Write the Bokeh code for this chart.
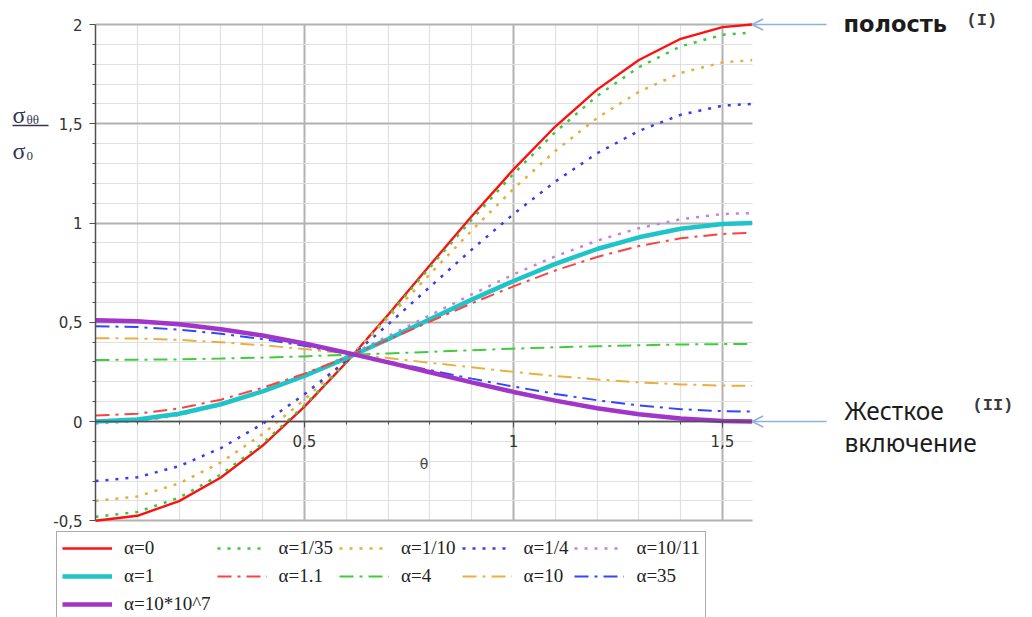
import math
from bokeh.plotting import figure
from bokeh.models import (Range1d, LinearAxis, FixedTicker, Grid, Legend, LegendItem,
                          Label, Arrow, OpenHead, CustomJSTickFormatter)
from bokeh.embed import file_html
from bokeh.resources import INLINE

# ---------------- data ----------------
theta = [0.0, 0.1, 0.2, 0.3, 0.4, 0.5, 0.6, 0.7, 0.8, 0.9, 1.0, 1.1, 1.2, 1.3, 1.4, 1.5, 1.571]

s_a0 = [-0.500, -0.475, -0.401, -0.282, -0.121, 0.075, 0.297, 0.538, 0.787, 1.034, 1.270, 1.486, 1.672, 1.821, 1.928, 1.987, 2.000]
s_a1_35 = [-0.480, -0.456, -0.384, -0.267, -0.110, 0.081, 0.298, 0.533, 0.776, 1.017, 1.248, 1.458, 1.640, 1.785, 1.890, 1.948, 1.960]
s_a1_10 = [-0.400, -0.378, -0.312, -0.206, -0.063, 0.110, 0.308, 0.521, 0.742, 0.962, 1.172, 1.363, 1.529, 1.661, 1.756, 1.809, 1.820]
s_a1_4 = [-0.300, -0.281, -0.225, -0.134, -0.012, 0.137, 0.306, 0.489, 0.678, 0.866, 1.045, 1.209, 1.351, 1.464, 1.545, 1.591, 1.600]
s_a10_11 = [-0.010, 0.001, 0.032, 0.083, 0.151, 0.234, 0.328, 0.430, 0.535, 0.640, 0.741, 0.832, 0.911, 0.974, 1.019, 1.045, 1.050]
s_a1 = [0.000, 0.010, 0.039, 0.087, 0.152, 0.230, 0.319, 0.415, 0.515, 0.614, 0.708, 0.794, 0.869, 0.928, 0.971, 0.995, 1.000]
s_a1_1 = [0.030, 0.039, 0.066, 0.110, 0.170, 0.241, 0.323, 0.412, 0.503, 0.595, 0.681, 0.761, 0.829, 0.884, 0.923, 0.945, 0.950]
s_a4 = [0.310, 0.311, 0.313, 0.317, 0.322, 0.328, 0.336, 0.343, 0.351, 0.359, 0.367, 0.374, 0.379, 0.384, 0.388, 0.390, 0.390]
s_a10 = [0.420, 0.418, 0.411, 0.399, 0.384, 0.365, 0.343, 0.320, 0.296, 0.273, 0.250, 0.229, 0.212, 0.197, 0.187, 0.181, 0.180]
s_a35 = [0.480, 0.476, 0.463, 0.442, 0.415, 0.381, 0.343, 0.302, 0.259, 0.216, 0.176, 0.139, 0.107, 0.081, 0.062, 0.052, 0.050]
s_a1e8 = [0.510, 0.505, 0.490, 0.465, 0.433, 0.393, 0.347, 0.298, 0.248, 0.197, 0.149, 0.105, 0.067, 0.037, 0.015, 0.003, 0.000]

series = [s_a0, s_a1_35, s_a1_10, s_a1_4, s_a10_11, s_a1, s_a1_1, s_a4, s_a10, s_a35, s_a1e8]
labels = ["α=0", "α=1/35", "α=1/10", "α=1/4", "α=10/11",
          "α=1", "α=1.1", "α=4", "α=10", "α=35", "α=10*10^7"]

x_major = [0.5, 1.0, 1.5]
x_minor = [0.1, 0.2, 0.3, 0.4, 0.6, 0.7, 0.8, 0.9, 1.1, 1.2, 1.3, 1.4]
y_major = [-0.5, 0.0, 0.5, 1.0, 1.5, 2.0]
y_minor = [-0.4, -0.3, -0.2, -0.1, 0.1, 0.2, 0.3, 0.4, 0.6, 0.7, 0.8, 0.9,
           1.1, 1.2, 1.3, 1.4, 1.6, 1.7, 1.8, 1.9]

# ---------------- styles ----------------
DOT = "3 7"
DASHDOT = "14 6 3 6"
styles = [
    dict(line_color="#ff1010", line_width=2.4, line_dash="solid"),
    dict(line_color="#3cc83c", line_width=2.5, line_dash=DOT),
    dict(line_color="#e8ac40", line_width=2.5, line_dash=DOT),
    dict(line_color="#3a3af0", line_width=2.5, line_dash=DOT),
    dict(line_color="#c880e0", line_width=2.5, line_dash=DOT),
    dict(line_color="#1ec4c8", line_width=4.5, line_dash="solid"),
    dict(line_color="#ff4040", line_width=2.0, line_dash=DASHDOT),
    dict(line_color="#40cc40", line_width=2.0, line_dash=DASHDOT),
    dict(line_color="#e8b040", line_width=2.0, line_dash=DASHDOT),
    dict(line_color="#3046ff", line_width=2.0, line_dash=DASHDOT),
    dict(line_color="#a035c8", line_width=4.5, line_dash="solid"),
]

W, H = 1030, 617
# picture-pixel -> data mapping used for frame ranges / annotation placement
PX0, PXU, PY0, PYU = 95.0, 418.0, 421.0, 198.5
def dx(px):
    return (px - PX0) / PXU
def dy(py):
    return (PY0 - py) / PYU

p = figure(width=W, height=H,
           x_range=Range1d(dx(0), dx(W)), y_range=Range1d(dy(H), dy(0)),
           x_axis_location=None, y_axis_location=None,
           toolbar_location=None, output_backend="svg",
           min_border=0, outline_line_color=None,
           background_fill_color="white", border_fill_color="white")
p.center = [r for r in p.center if not isinstance(r, Grid)]

XMAX = theta[-1]
YMIN, YMAX = y_major[0], y_major[-1]

# ---------------- grid ----------------
has_cb = "cross_bounds" in Grid.properties()
gx_kw = dict(grid_line_color="#b2b2b2", grid_line_width=2,
             minor_grid_line_color="#e0e0e0", minor_grid_line_width=1.2)
if has_cb:
    gx = Grid(dimension=0, ticker=FixedTicker(ticks=x_major, minor_ticks=x_minor),
              bounds=(0, XMAX), cross_bounds=(YMIN, YMAX), **gx_kw)
    gy = Grid(dimension=1, ticker=FixedTicker(ticks=y_major, minor_ticks=y_minor),
              bounds=(YMIN, YMAX), cross_bounds=(0, XMAX), **gx_kw)
    p.add_layout(gx)
    p.add_layout(gy)
else:
    p.segment(x0=x_minor, y0=[YMIN] * len(x_minor), x1=x_minor, y1=[YMAX] * len(x_minor),
              line_color="#e0e0e0", line_width=1.2, level="underlay")
    p.segment(x0=[0] * len(y_minor), y0=y_minor, x1=[XMAX] * len(y_minor), y1=y_minor,
              line_color="#e0e0e0", line_width=1.2, level="underlay")
    p.segment(x0=x_major, y0=[YMIN] * len(x_major), x1=x_major, y1=[YMAX] * len(x_major),
              line_color="#b2b2b2", line_width=2, level="underlay")
    p.segment(x0=[0] * len(y_major), y0=y_major, x1=[XMAX] * len(y_major), y1=y_major,
              line_color="#b2b2b2", line_width=2, level="underlay")

# ---------------- axes ----------------
fmt = CustomJSTickFormatter(code="return String(tick).replace('.', ',');")
axis_kw = dict(axis_line_color="#505050", axis_line_width=1.5,
               major_tick_line_color="#505050", minor_tick_line_color="#505050",
               major_tick_in=0, major_tick_out=6, minor_tick_in=0, minor_tick_out=3,
               major_label_text_font="DejaVu Sans", major_label_text_font_size="15px",
               major_label_text_color="#333333", formatter=fmt)
xaxis = LinearAxis(fixed_location=0, bounds=(0, XMAX),
                   ticker=FixedTicker(ticks=x_major, minor_ticks=x_minor),
                   major_label_standoff=7, axis_label="θ", axis_label_standoff=6,
                   axis_label_text_font="DejaVu Sans", axis_label_text_font_size="14px",
                   axis_label_text_font_style="normal", axis_label_text_color="#444444",
                   **axis_kw)
yaxis = LinearAxis(fixed_location=0, bounds=(YMIN, YMAX),
                   ticker=FixedTicker(ticks=y_major, minor_ticks=y_minor),
                   major_label_standoff=7, **axis_kw)
p.add_layout(xaxis, "below")
p.add_layout(yaxis, "left")

# ---------------- curves ----------------
items = []
for vals, lab, st in zip(series, labels, styles):
    r = p.line(theta, vals, **st)
    items.append(LegendItem(label=lab, renderers=[r]))

legend = Legend(items=items, location=(56, -4), orientation="horizontal", ncols=5,
                glyph_width=50, glyph_height=20, label_standoff=12, spacing=6,
                padding=5, margin=0, border_line_color="#555555", border_line_width=1.5,
                background_fill_color="white", background_fill_alpha=1.0,
                label_text_font="Liberation Serif", label_text_font_size="19px",
                label_text_color="#222222")
p.add_layout(legend)

# ---------------- y label (fraction) ----------------
ycol = "#34344e"
p.add_layout(Label(x=dx(12), y=dy(114), text="σ", text_font="Liberation Serif",
                   text_font_size="24px", text_baseline="middle", text_color=ycol))
p.add_layout(Label(x=dx(26), y=dy(119), text="θθ", text_font="Liberation Serif",
                   text_font_size="13px", text_baseline="middle", text_color=ycol))
p.add_layout(Arrow(end=None, x_start=dx(12), y_start=dy(125), x_end=dx(48), y_end=dy(125),
                   line_color=ycol, line_width=1.3))
p.add_layout(Label(x=dx(12), y=dy(150), text="σ", text_font="Liberation Serif",
                   text_font_size="24px", text_baseline="middle", text_color=ycol))
p.add_layout(Label(x=dx(26), y=dy(155), text="0", text_font="Liberation Serif",
                   text_font_size="13px", text_baseline="middle", text_color=ycol))

# ---------------- right annotations ----------------
arrow_c = "#8fb2da"
for yv in (s_a0[-1], s_a1e8[-1]):
    p.add_layout(Arrow(end=OpenHead(size=11, line_color=arrow_c, line_width=1.5),
                       x_start=dx(826), y_start=yv, x_end=XMAX, y_end=yv,
                       line_color=arrow_c, line_width=1.5))

txt_c = "#1c1c1c"
p.add_layout(Label(x=dx(843), y=dy(23), text="полость", text_font="DejaVu Sans",
                   text_font_size="22.5px", text_font_style="bold", text_baseline="middle",
                   text_color=txt_c))
p.add_layout(Label(x=dx(966), y=dy(20), text="(I)", text_font="Liberation Mono",
                   text_font_size="17px", text_font_style="bold", text_baseline="middle",
                   text_color="#3a3a3a"))
p.add_layout(Label(x=dx(844), y=dy(410), text="Жесткое", text_font="Noto Sans",
                   text_font_size="24.5px", text_baseline="middle", text_color=txt_c))
p.add_layout(Label(x=dx(972), y=dy(405), text="(II)", text_font="Liberation Mono",
                   text_font_size="17px", text_font_style="bold", text_baseline="middle",
                   text_color="#3a3a3a"))
p.add_layout(Label(x=dx(844), y=dy(442), text="включение", text_font="Noto Sans",
                   text_font_size="24.5px", text_baseline="middle", text_color=txt_c))

open("out.html", "w").write(file_html(p, INLINE))
